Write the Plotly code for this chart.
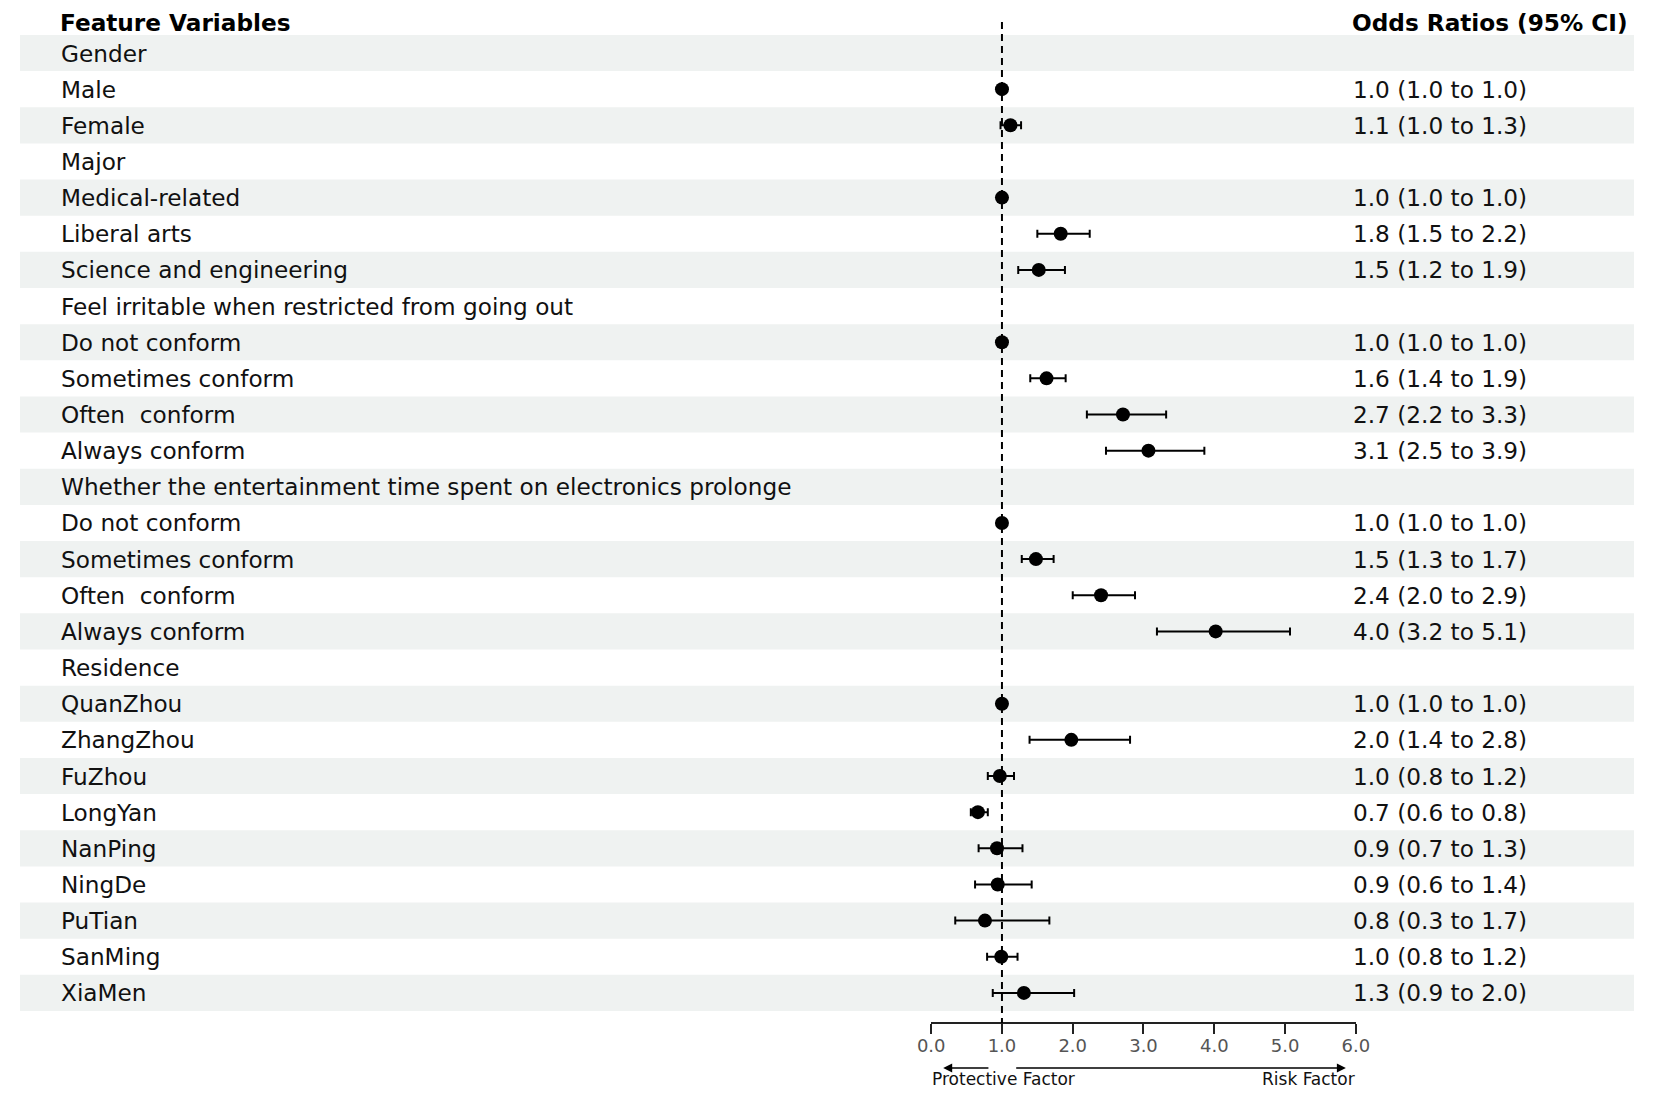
import plotly.graph_objects as go

# rows of the table (headers have no estimate)
labels = ["Gender", "Male", "Female",
          "Major", "Medical-related", "Liberal arts", "Science and engineering",
          "Feel irritable when restricted from going out",
          "Do not conform", "Sometimes conform", "Often  conform", "Always conform",
          "Whether the entertainment time spent on electronics prolonge",
          "Do not conform", "Sometimes conform", "Often  conform", "Always conform",
          "Residence", "QuanZhou", "ZhangZhou", "FuZhou", "LongYan", "NanPing",
          "NingDe", "PuTian", "SanMing", "XiaMen"]
odds = [None, 1.0, 1.12,
        None, 1.0, 1.83, 1.52,
        None, 1.0, 1.63, 2.71, 3.07,
        None, 1.0, 1.48, 2.40, 4.02,
        None, 1.0, 1.98, 0.97, 0.66, 0.93, 0.94, 0.76, 0.99, 1.31]
lower = [None, 1.0, 0.98,
         None, 1.0, 1.50, 1.23,
         None, 1.0, 1.40, 2.20, 2.47,
         None, 1.0, 1.28, 2.00, 3.19,
         None, 1.0, 1.39, 0.80, 0.56, 0.67, 0.62, 0.34, 0.79, 0.87]
upper = [None, 1.0, 1.27,
         None, 1.0, 2.24, 1.89,
         None, 1.0, 1.90, 3.32, 3.86,
         None, 1.0, 1.73, 2.88, 5.07,
         None, 1.0, 2.81, 1.17, 0.80, 1.29, 1.42, 1.67, 1.22, 2.02]
ci_text = ["", "1.0 (1.0 to 1.0)", "1.1 (1.0 to 1.3)",
           "", "1.0 (1.0 to 1.0)", "1.8 (1.5 to 2.2)", "1.5 (1.2 to 1.9)",
           "", "1.0 (1.0 to 1.0)", "1.6 (1.4 to 1.9)", "2.7 (2.2 to 3.3)", "3.1 (2.5 to 3.9)",
           "", "1.0 (1.0 to 1.0)", "1.5 (1.3 to 1.7)", "2.4 (2.0 to 2.9)", "4.0 (3.2 to 5.1)",
           "", "1.0 (1.0 to 1.0)", "2.0 (1.4 to 2.8)", "1.0 (0.8 to 1.2)", "0.7 (0.6 to 0.8)",
           "0.9 (0.7 to 1.3)", "0.9 (0.6 to 1.4)", "0.8 (0.3 to 1.7)", "1.0 (0.8 to 1.2)",
           "1.3 (0.9 to 2.0)"]
x_ticks = [0, 1, 2, 3, 4, 5, 6]

# page is 1654x1098, the html body adds an 8px margin -> shrink the figure to fit
OFF = 8
W, H = 1654 - 2 * OFF, 1098 - 2 * OFF
ROW0, ROWH = 53 - OFF, 36.15  # pixel centre of first row, row height


def prow(p):
    # page pixel from top -> row coordinate
    return (p - OFF - ROW0) / ROWH


def px(p):
    # page pixel from left -> paper fraction
    return (p - OFF) / W


FONT = "DejaVu Sans"
FS = 23.2
TXT_X, CI_X = 46, 1360
rows = list(range(len(labels)))
pts = [(r, o, lo, hi) for r, o, lo, hi in zip(rows, odds, lower, upper) if o is not None]

fig = go.Figure()
fig.add_trace(go.Scatter(
    x=[p[1] for p in pts], y=[p[0] for p in pts], mode="markers",
    marker=dict(color="black", size=14),
    error_x=dict(type="data", symmetric=False,
                 array=[p[3] - p[1] for p in pts],
                 arrayminus=[p[1] - p[2] for p in pts],
                 color="black", thickness=2, width=4),
    showlegend=False, hoverinfo="skip"))

shapes = []
for r in rows:
    if r % 2 == 0:
        shapes.append(dict(type="rect", xref="paper", yref="y", x0=px(6), x1=px(1648),
                           y0=r - 0.5, y1=r + 0.5, fillcolor="#eff2f1",
                           line=dict(width=0), layer="below"))
shapes.append(dict(type="line", xref="x", yref="y", x0=1, x1=1, y0=prow(22), y1=prow(1023),
                   line=dict(color="black", width=2, dash="7px,5px")))

ann = []
# column headers, pinned to the top edge so they are not clipped
for txt, xp in [("<b>Feature Variables</b>", TXT_X), ("<b>Odds Ratios (95% CI)</b>", CI_X)]:
    ann.append(dict(text=txt, xref="paper", yref="paper", x=px(xp), y=1,
                    xanchor="left", yanchor="top", showarrow=False, borderpad=0,
                    font=dict(size=FS, color="black")))
for r, lab, ct in zip(rows, labels, ci_text):
    ann.append(dict(text=lab.replace("  ", " \u00a0"), xref="paper", yref="y", x=px(TXT_X), y=r,
                    xanchor="left", yanchor="middle", showarrow=False,
                    font=dict(size=FS, color="#111")))
    if ct:
        ann.append(dict(text=ct, xref="paper", yref="y", x=px(CI_X), y=r,
                        xanchor="left", yanchor="middle", showarrow=False,
                        font=dict(size=FS, color="#111")))

# protective / risk arrows
ann.append(dict(x=0.17, y=prow(1068), ax=0.83, ay=prow(1068), xref="x", yref="y",
                axref="x", ayref="y", text="", showarrow=True, arrowhead=2,
                arrowsize=1.2, arrowwidth=1.5, arrowcolor="black"))
ann.append(dict(x=5.86, y=prow(1068), ax=1.18, ay=prow(1068), xref="x", yref="y",
                axref="x", ayref="y", text="", showarrow=True, arrowhead=2,
                arrowsize=1.2, arrowwidth=1.5, arrowcolor="black"))
ann.append(dict(text="Protective Factor", x=0, y=0, xref="x", yref="paper",
                xanchor="left", yanchor="bottom", showarrow=False, borderpad=0,
                font=dict(size=17, color="#111")))
ann.append(dict(text="Risk Factor", x=6, y=0, xref="x", yref="paper",
                xanchor="right", yanchor="bottom", showarrow=False, borderpad=0,
                font=dict(size=17, color="#111")))

fig.update_layout(
    width=W, height=H, margin=dict(l=0, r=0, t=0, b=0),
    paper_bgcolor="white", plot_bgcolor="rgba(0,0,0,0)",
    font=dict(family=FONT),
    shapes=shapes, annotations=ann,
    xaxis=dict(domain=[px(933), px(1365)], range=[0, 6], anchor="free",
               position=1 - (1023 - OFF) / H, showgrid=False, zeroline=False,
               showline=True, linecolor="#222", linewidth=2,
               ticks="outside", ticklen=10, tickwidth=2, tickcolor="#222",
               tickvals=x_ticks, tickformat=".1f", ticklabelstandoff=-4,
               tickfont=dict(size=18, color="#555")),
    yaxis=dict(domain=[0, 1], range=[prow(1098 - OFF), prow(OFF)], visible=False,
               showgrid=False, zeroline=False),
)

fig.write_html("out.html")
